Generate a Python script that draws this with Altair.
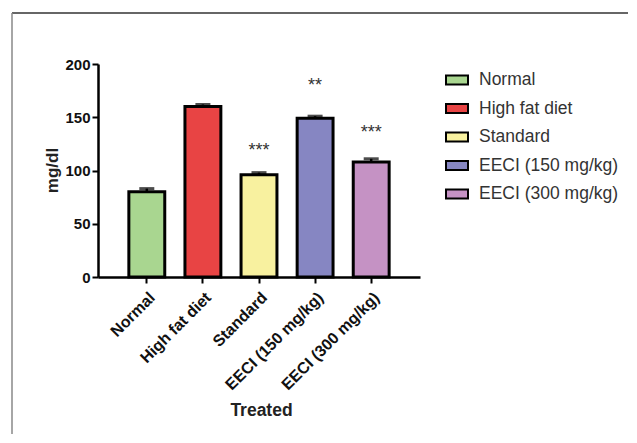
import altair as alt
import pandas as pd

groups = ["Normal", "High fat diet", "Standard", "EECI (150 mg/kg)", "EECI (300 mg/kg)"]
means = [80, 160, 96, 149, 108]
errs = [3, 2, 2, 2, 3]
stars = ["", "", "***", "**", "***"]
star_pos = [0, 0, 121, 182, 138]
colors = ["#a9d690", "#e84444", "#f8f19f", "#8686c2", "#c592c4"]

df = pd.DataFrame({"group": groups, "mean": means, "err": errs})
df["hi"] = df["mean"] + df["err"]
sdf = pd.DataFrame({"group": groups, "star": stars, "pos": star_pos})
sdf = sdf[sdf["star"] != ""]

FONT = "Liberation Sans"

xscale = alt.Scale(domain=groups, paddingInner=0.36, paddingOuter=0.55)
x = alt.X("group:N", sort=groups, scale=xscale,
          axis=alt.Axis(title="Treated", labelAngle=-45, labelFont=FONT, labelFontSize=16,
                        labelFontWeight="bold", labelColor="#111", labelPadding=6,
                        titleFont=FONT, titleFontSize=17.5, titleFontWeight="bold",
                        titleColor="#222", titleX=163, titleY=133, titleBaseline="middle",
                        domainColor="black", domainWidth=2.5, tickColor="black",
                        tickWidth=2, tickSize=6))
y = alt.Y("mean:Q", scale=alt.Scale(domain=[0, 200]),
          axis=alt.Axis(title="mg/dl", values=[0, 50, 100, 150, 200], labelFont=FONT,
                        labelFontSize=15, labelFontWeight="bold", labelColor="#111",
                        labelPadding=2, titleFont=FONT, titleFontSize=17,
                        titleFontWeight="bold", titleColor="#222", titleX=-46, titleY=106,
                        titleAngle=-90, titleBaseline="middle", grid=False,
                        domainColor="black", domainWidth=2.5, tickColor="black",
                        tickWidth=2, tickSize=6))

bars = alt.Chart(df).mark_bar(stroke="black", strokeWidth=3).encode(
    x=x, y=y,
    color=alt.Color("group:N", sort=groups, scale=alt.Scale(domain=groups, range=colors),
                    legend=alt.Legend(title=None, orient="none", legendX=347, legendY=4,
                                      symbolType="M-1,-0.42H1V0.42H-1Z", symbolSize=484,
                                      symbolStrokeColor="black", symbolStrokeWidth=2,
                                      labelFont=FONT, labelFontSize=17.5, labelColor="#333",
                                      labelOffset=10, rowPadding=7.5, padding=0))
)

err_rule = alt.Chart(df).mark_rule(color="black", strokeWidth=2.5).encode(
    x=alt.X("group:N", sort=groups, scale=xscale), y="mean:Q", y2="hi:Q")
err_cap = alt.Chart(df).mark_tick(color="black", thickness=3, size=15).encode(
    x=alt.X("group:N", sort=groups, scale=xscale), y="hi:Q")

star_txt = alt.Chart(sdf).mark_text(font=FONT, fontSize=18, color="#333",
                                    baseline="middle", dy=3).encode(
    x=alt.X("group:N", sort=groups, scale=xscale), y="pos:Q", text="star:N")

frame = alt.Data(values=[{"a": 1}])
top_line = alt.Chart(frame).mark_rule(color="#333", strokeWidth=1.5).encode(
    x=alt.value(-86), x2=alt.value(540), y=alt.value(-51))
left_line = alt.Chart(frame).mark_rule(color="#888", strokeWidth=1.5).encode(
    x=alt.value(-86), y=alt.value(-51), y2=alt.value(380))

chart = alt.layer(bars, err_rule, err_cap, star_txt, top_line, left_line).properties(
    width=322, height=213,
    background="white",
    autosize=alt.AutoSizeParams(type="none"),
    padding={"left": 90, "top": 56, "right": 208, "bottom": 157},
).configure_view(stroke=None)

chart.save("out.html", embed_options={"renderer": "svg", "actions": False})
